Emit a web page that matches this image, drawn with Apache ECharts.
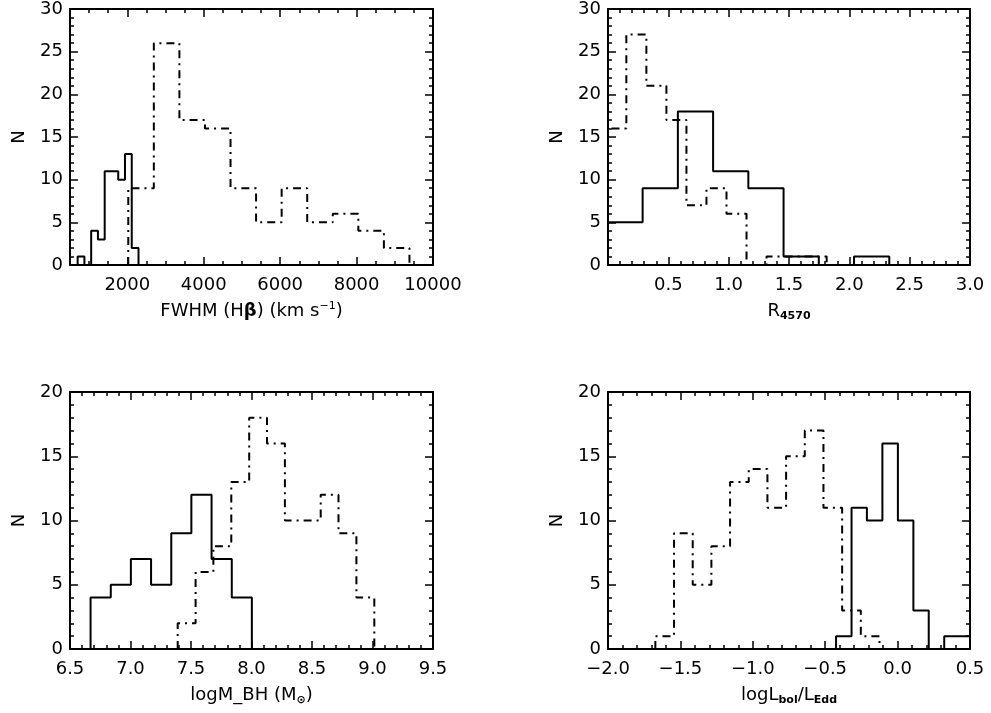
<!DOCTYPE html>
<html>
<head>
<meta charset="utf-8">
<script src="https://cdn.jsdelivr.net/npm/echarts@6/dist/echarts.min.js"></script>
<style>html,body{margin:0;padding:0;background:#fff}#chart{width:991px;height:713px}</style>
</head>
<body>
<div id="chart"></div>
<script>
// panel 1: FWHM(Hbeta)
var fwhmEdgesA = [700, 877, 1054, 1231, 1408, 1585, 1762, 1939, 2116, 2293];
var fwhmCountsA = [1, 0, 4, 3, 11, 11, 10, 13, 2];
var fwhmEdgesB = [2025, 2694, 3363, 4032, 4701, 5370, 6039, 6708, 7377, 8046, 8715, 9384];
var fwhmCountsB = [9, 26, 17, 16, 9, 5, 9, 5, 6, 4, 2];
var fwhmTicks = [2000, 4000, 6000, 8000, 10000];

// panel 2: R4570
var rEdgesA = [0, 0.287, 0.579, 0.871, 1.163, 1.455, 1.747, 2.039, 2.331];
var rCountsA = [5, 9, 18, 11, 9, 1, 0, 1];
var rEdgesB = [0, 0.152, 0.318, 0.484, 0.65, 0.816, 0.982, 1.148, 1.314, 1.48, 1.646, 1.812];
var rCountsB = [16, 27, 21, 17, 7, 9, 6, 0, 1, 1, 1];
var rTicks = [0.5, 1.0, 1.5, 2.0, 2.5, 3.0];

// panel 3: log M_BH
var mEdgesA = [6.67, 6.837, 7.003, 7.17, 7.337, 7.503, 7.67, 7.837, 8.003];
var mCountsA = [4, 5, 7, 5, 9, 12, 7, 4];
var mEdgesB = [7.39, 7.538, 7.685, 7.833, 7.981, 8.128, 8.276, 8.424, 8.572, 8.719, 8.867, 9.015];
var mCountsB = [2, 6, 8, 13, 18, 16, 10, 10, 12, 9, 4];
var mTicks = [6.5, 7.0, 7.5, 8.0, 8.5, 9.0, 9.5];

// panel 4: log Lbol/LEdd
var lEdgesA = [-0.425, -0.318, -0.212, -0.105, 0.002, 0.109, 0.215, 0.322, 0.429, 0.535];
var lCountsA = [1, 11, 10, 16, 10, 3, 0, 1, 1];
var lEdgesB = [-1.673, -1.544, -1.415, -1.286, -1.157, -1.028, -0.899, -0.770, -0.641, -0.512, -0.383, -0.254, -0.125];
var lCountsB = [1, 9, 5, 8, 13, 14, 11, 15, 17, 11, 3, 1];
var lTicks = [-2.0, -1.5, -1.0, -0.5, 0.0, 0.5];

var nTicksTop = [0, 5, 10, 15, 20, 25, 30];
var nTicksBot = [0, 5, 10, 15, 20];

var FONT = 'DejaVu Sans';
var dashDot = [8, 5, 2, 5];

function range(a, b, step) {
    var out = [];
    var n = Math.round((b - a) / step);
    for (var i = 0; i <= n; i++) out.push(+(a + i * step).toFixed(6));
    return out;
}

function steps(edges, counts) {
    var pts = [[edges[0], 0]];
    for (var i = 0; i < counts.length; i++) {
        pts.push([edges[i + 1], counts[i]]);
    }
    pts.push([edges[edges.length - 1], 0]);
    return pts;
}

var richText = {
    b: {fontFamily: FONT, fontSize: 18, fontWeight: 'bold', color: '#000'},
    sup: {fontFamily: FONT, fontSize: 11, color: '#000', padding: [0, 0, 10, 0]},
    sub: {fontFamily: FONT, fontSize: 11, fontWeight: 'bold', color: '#000', padding: [10, 0, 0, 0]}
};

function boxAxes(dim, gi, min, max, major, minor, labels, name, fmt) {
    var sides = dim === 'x' ? ['bottom', 'top'] : ['left', 'right'];
    var list = [];
    for (var k = 0; k < 4; k++) {
        var isMain = k === 0;
        var isMinor = k >= 2;
        var ax = {
            type: 'value',
            gridIndex: gi,
            min: min,
            max: max,
            position: sides[k % 2],
            splitLine: {show: false},
            axisLine: {show: !isMinor, onZero: false, lineStyle: {color: '#000', width: 2}},
            axisTick: {
                show: true,
                inside: true,
                length: isMinor ? 4 : 8,
                customValues: isMinor ? minor : major,
                lineStyle: {color: '#000', width: 1.5}
            },
            axisLabel: {show: false},
            silent: true,
            z: 5
        };
        if (isMain) {
            ax.axisLabel = {
                show: true,
                customValues: labels,
                color: '#000',
                fontFamily: FONT,
                fontSize: 18,
                margin: dim === 'x' ? 11 : 7,
                formatter: fmt
            };
            ax.name = name;
            ax.nameLocation = 'middle';
            ax.nameGap = dim === 'x' ? 36 : 42;
            ax.nameTextStyle = {color: '#000', fontFamily: FONT, fontSize: 18, rich: richText};
        }
        list.push(ax);
    }
    return list;
}

function fixed1(v) { return v.toFixed(1); }
function plain(v) { return String(v); }

var grids = [
    {left: 70, top: 9, width: 363, height: 256},
    {left: 608, top: 9, width: 362, height: 256},
    {left: 70, top: 392, width: 363, height: 257},
    {left: 608, top: 392, width: 362, height: 257}
];

var xAxes = [].concat(
    boxAxes('x', 0, 500, 10000, fwhmTicks, range(500, 10000, 500), fwhmTicks,
        'FWHM (H{b|β}) (km s{sup|−1})', plain),
    boxAxes('x', 1, 0, 3, range(0, 3, 0.5), range(0, 3, 0.1), rTicks, 'R{sub|4570}', fixed1),
    boxAxes('x', 2, 6.5, 9.5, mTicks, range(6.5, 9.5, 0.1), mTicks, 'logM_BH (M{sub|⊙})', fixed1),
    boxAxes('x', 3, -2, 0.5, lTicks, range(-2, 0.5, 0.1), lTicks,
        'logL{sub|bol}/L{sub|Edd}', function (v) { return (v < 0 ? '−' : '') + Math.abs(v).toFixed(1); })
);

var yAxes = [].concat(
    boxAxes('y', 0, 0, 30, nTicksTop, range(0, 30, 1), nTicksTop, 'N', plain),
    boxAxes('y', 1, 0, 30, nTicksTop, range(0, 30, 1), nTicksTop, 'N', plain),
    boxAxes('y', 2, 0, 20, nTicksBot, range(0, 20, 1), nTicksBot, 'N', plain),
    boxAxes('y', 3, 0, 20, nTicksBot, range(0, 20, 1), nTicksBot, 'N', plain)
);

function hist(gi, edges, counts, dashed) {
    return {
        type: 'line',
        xAxisIndex: gi * 4,
        yAxisIndex: gi * 4,
        step: 'start',
        symbol: 'none',
        clip: true,
        silent: true,
        lineStyle: {color: '#000', width: 2, type: dashed ? dashDot : 'solid'},
        data: steps(edges, counts)
    };
}

var option = {
    backgroundColor: '#fff',
    animation: false,
    grid: grids,
    xAxis: xAxes,
    yAxis: yAxes,
    series: [
        hist(0, fwhmEdgesA, fwhmCountsA, false),
        hist(0, fwhmEdgesB, fwhmCountsB, true),
        hist(1, rEdgesA, rCountsA, false),
        hist(1, rEdgesB, rCountsB, true),
        hist(2, mEdgesA, mCountsA, false),
        hist(2, mEdgesB, mCountsB, true),
        hist(3, lEdgesA, lCountsA, false),
        hist(3, lEdgesB, lCountsB, true)
    ]
};

var chart = echarts.init(document.getElementById('chart'), null, {renderer: 'canvas'});
chart.setOption(option);
</script>
</body>
</html>
